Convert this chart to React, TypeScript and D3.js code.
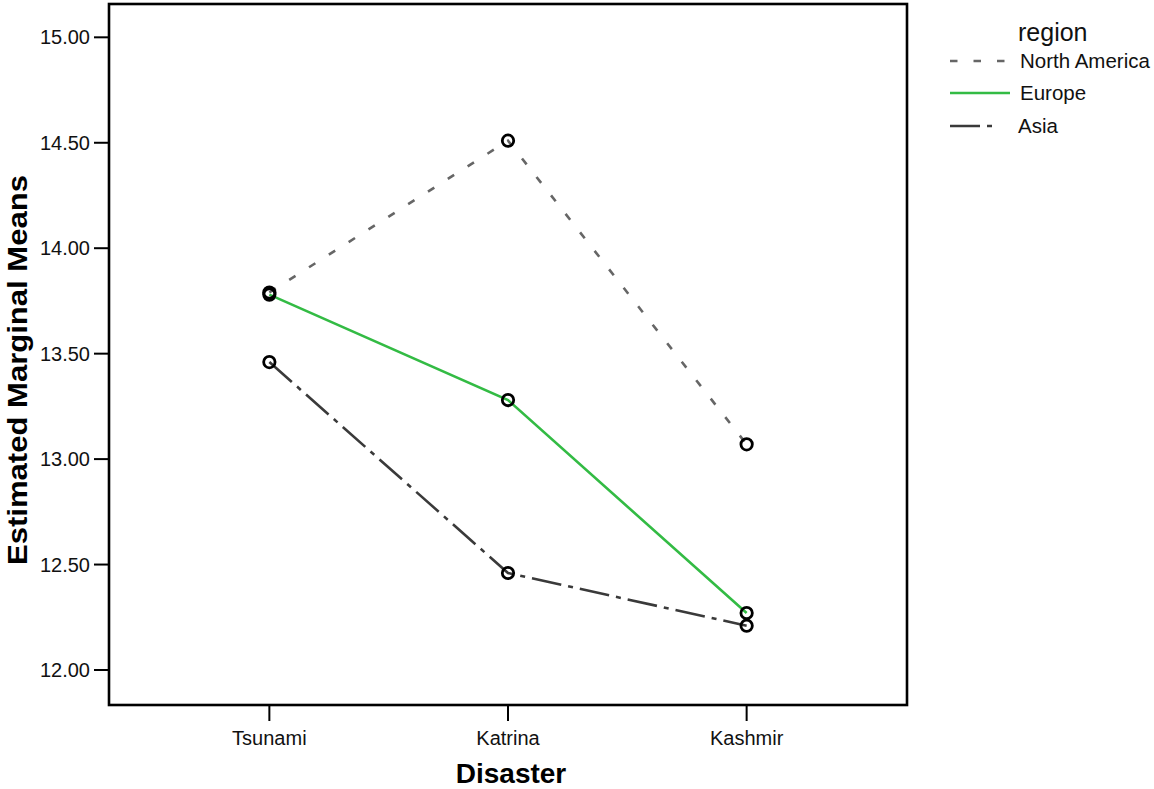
import React, { useEffect, useRef } from 'react';
import * as d3 from 'd3';

// categories on the x axis
const disasters = ['Tsunami', 'Katrina', 'Kashmir'];
// series (estimated marginal means per region)
const northAmerica = [13.79, 14.51, 13.07];
const europe = [13.78, 13.28, 12.27];
const asia = [13.46, 12.46, 12.21];
// y tick values
const yTicks = [12.0, 12.5, 13.0, 13.5, 14.0, 14.5, 15.0];

const FONT = '"Liberation Sans", Arial, Helvetica, sans-serif';

const App = () => {
  const svgRef = useRef<SVGSVGElement>(null);

  useEffect(() => {
    const svg = d3.select(svgRef.current);
    svg.selectAll('*').remove();

    const left = 109, right = 907, top = 4, bottom = 705;

    const x = d3.scalePoint<string>()
      .domain(disasters)
      .range([left, right])
      .padding(0.672);

    const y = d3.scaleLinear()
      .domain([11.834, 15.158])
      .range([bottom, top]);

    const series = [
      { name: 'North America', values: northAmerica, color: '#666666', dash: '7.5,16', legendDash: '7.5,16' },
      { name: 'Europe', values: europe, color: '#33bb44', dash: null, legendDash: null },
      { name: 'Asia', values: asia, color: '#3a3a3a', dash: '30,7,5,7', legendDash: '30,7,5,100' },
    ];

    const line = d3.line<number>()
      .x((_, i) => x(disasters[i]) as number)
      .y(d => y(d));

    // lines
    series.forEach(s => {
      svg.append('path')
        .datum(s.values)
        .attr('d', line)
        .attr('fill', 'none')
        .attr('stroke', s.color)
        .attr('stroke-width', 2.6)
        .attr('stroke-dasharray', s.dash);
    });

    // markers
    series.forEach(s => {
      svg.selectAll(null)
        .data(s.values)
        .enter()
        .append('circle')
        .attr('cx', (_, i) => x(disasters[i]) as number)
        .attr('cy', d => y(d))
        .attr('r', 5.7)
        .attr('fill', 'none')
        .attr('stroke', '#000')
        .attr('stroke-width', 2.8);
    });

    // frame
    svg.append('rect')
      .attr('x', left)
      .attr('y', top)
      .attr('width', right - left)
      .attr('height', bottom - top)
      .attr('fill', 'none')
      .attr('stroke', '#000')
      .attr('stroke-width', 2.6);

    // y ticks
    const yg = svg.append('g');
    yTicks.forEach(t => {
      yg.append('line')
        .attr('x1', left - 15).attr('x2', left)
        .attr('y1', y(t)).attr('y2', y(t))
        .attr('stroke', '#000').attr('stroke-width', 2);
      yg.append('text')
        .attr('x', 90)
        .attr('y', y(t))
        .attr('dy', '0.35em')
        .attr('text-anchor', 'end')
        .style('font-family', FONT)
        .style('font-size', '20px')
        .attr('fill', '#111')
        .text(t.toFixed(2));
    });

    // x ticks
    const xg = svg.append('g');
    disasters.forEach(d => {
      const px = x(d) as number;
      xg.append('line')
        .attr('x1', px).attr('x2', px)
        .attr('y1', bottom).attr('y2', bottom + 16)
        .attr('stroke', '#000').attr('stroke-width', 2);
      xg.append('text')
        .attr('x', px)
        .attr('y', 745)
        .attr('text-anchor', 'middle')
        .style('font-family', FONT)
        .style('font-size', '20px')
        .attr('fill', '#111')
        .text(d);
    });

    // axis titles
    svg.append('text')
      .attr('x', 511)
      .attr('y', 783)
      .attr('text-anchor', 'middle')
      .style('font-family', FONT)
      .style('font-size', '28px')
      .style('font-weight', 'bold')
      .text('Disaster');

    svg.append('text')
      .attr('transform', `translate(27,370) rotate(-90)`)
      .attr('text-anchor', 'middle')
      .attr('textLength', 390)
      .attr('lengthAdjust', 'spacingAndGlyphs')
      .style('font-family', FONT)
      .style('font-size', '28px')
      .style('font-weight', 'bold')
      .text('Estimated Marginal Means');

    // legend
    const lg = svg.append('g');
    lg.append('text')
      .attr('x', 1018).attr('y', 41)
      .style('font-family', FONT)
      .style('font-size', '25px')
      .attr('fill', '#111')
      .text('region');

    const legendY = [61, 93, 126];
    series.forEach((s, i) => {
      const ly = legendY[i];
      lg.append('line')
        .attr('x1', 950).attr('x2', 1010)
        .attr('y1', ly).attr('y2', ly)
        .attr('stroke', s.color)
        .attr('stroke-width', 2.6)
        .attr('stroke-dasharray', s.legendDash);
      lg.append('text')
        .attr('x', s.name === 'Asia' ? 1018 : 1020).attr('y', ly)
        .attr('dy', '0.35em')
        .style('font-family', FONT)
        .style('font-size', '20.5px')
        .attr('fill', '#111')
        .text(s.name);
    });
  }, []);

  return (
    <svg
      ref={svgRef}
      width={1154}
      height={789}
      style={{ position: 'absolute', left: 0, top: 0, background: '#fff' }}
    />
  );
};

export default App;
